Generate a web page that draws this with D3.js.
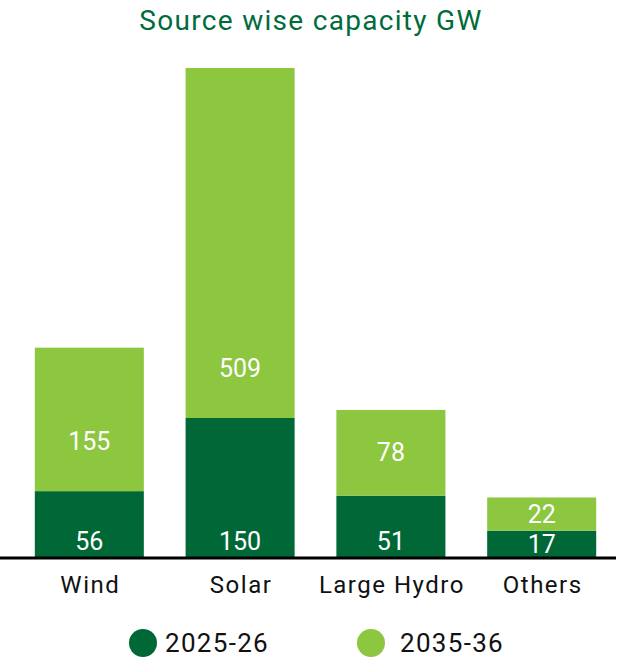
<!DOCTYPE html>
<html>
<head>
<meta charset="utf-8">
<script src="https://cdn.jsdelivr.net/npm/d3@7"></script>
<style>
  body { margin: 0; background: #fff; }
  svg { display: block; font-family: Roboto, "Noto Sans", sans-serif; }
</style>
</head>
<body>
<svg id="chart" width="620" height="658"></svg>
<script>
const categories = ["Wind", "Solar", "Large Hydro", "Others"];
const seriesNames = ["2025-26", "2035-36"];
const values2025 = [56, 150, 51, 17];
const values2035 = [155, 509, 78, 22];
const seriesColors = ["#006837", "#8dc63f"];

const svg = d3.select("#chart");
const baseY = 558;

// infographic style: segment heights are compressed, not linear
const h = d3.scalePow()
    .exponent(0.75)
    .domain([0, d3.max(values2035)])
    .range([0, 350]);

const x = d3.scaleBand()
    .domain(categories)
    .range([14, 617])
    .paddingInner(0.277)
    .paddingOuter(0.138);

svg.append("text")
    .attr("x", 311)
    .attr("y", 20)
    .attr("text-anchor", "middle")
    .attr("dominant-baseline", "central")
    .style("font-size", "28px")
    .style("letter-spacing", "1.3px")
    .style("fill", "#006b3c")
    .text("Source wise capacity GW");

const rows = categories.map((c, i) => {
    const h1 = h(values2025[i]);
    const h2 = h(values2035[i]);
    return [
        {cat: c, v: values2025[i], y0: baseY, y1: baseY - h1, s: 0},
        {cat: c, v: values2035[i], y0: baseY - h1, y1: baseY - h1 - h2, s: 1}
    ];
}).flat();

svg.append("g").selectAll("rect")
    .data(rows)
    .enter()
    .append("rect")
    .attr("x", d => x(d.cat))
    .attr("width", x.bandwidth())
    .attr("y", d => d.y1)
    .attr("height", d => d.y0 - d.y1)
    .style("fill", d => seriesColors[d.s]);

svg.append("g").selectAll("text")
    .data(rows)
    .enter()
    .append("text")
    .attr("x", d => x(d.cat) + x.bandwidth() / 2)
    .attr("y", d => d.s === 0
        ? baseY - Math.min(17, (d.y0 - d.y1) / 2)
        : d.y0 - Math.min((d.y0 - d.y1) / 2, 50))
    .attr("text-anchor", "middle")
    .attr("dominant-baseline", "central")
    .style("font-size", "25px")
    .style("fill", "#fff")
    .text(d => d.v);

svg.append("line")
    .attr("x1", 0)
    .attr("x2", 616)
    .attr("y1", baseY)
    .attr("y2", baseY)
    .style("stroke", "#000")
    .style("stroke-width", 3);

svg.append("g").selectAll("text")
    .data(categories)
    .enter()
    .append("text")
    .attr("x", d => x(d) + x.bandwidth() / 2 + 1)
    .attr("y", 585)
    .attr("text-anchor", "middle")
    .attr("dominant-baseline", "central")
    .style("font-size", "24px")
    .style("letter-spacing", "1.5px")
    .style("fill", "#111")
    .text(d => d);

// legend
const legendX = [143, 371];
const legend = svg.append("g").selectAll("g")
    .data(seriesNames)
    .enter()
    .append("g")
    .attr("transform", (d, i) => `translate(${legendX[i]}, 643)`);

legend.append("circle")
    .attr("r", 14)
    .style("fill", (d, i) => seriesColors[i]);

legend.append("text")
    .attr("x", (d, i) => i === 0 ? 22 : 29)
    .attr("dominant-baseline", "central")
    .style("font-size", "26px")
    .style("letter-spacing", "1.3px")
    .style("fill", "#111")
    .text(d => d);
</script>
</body>
</html>
